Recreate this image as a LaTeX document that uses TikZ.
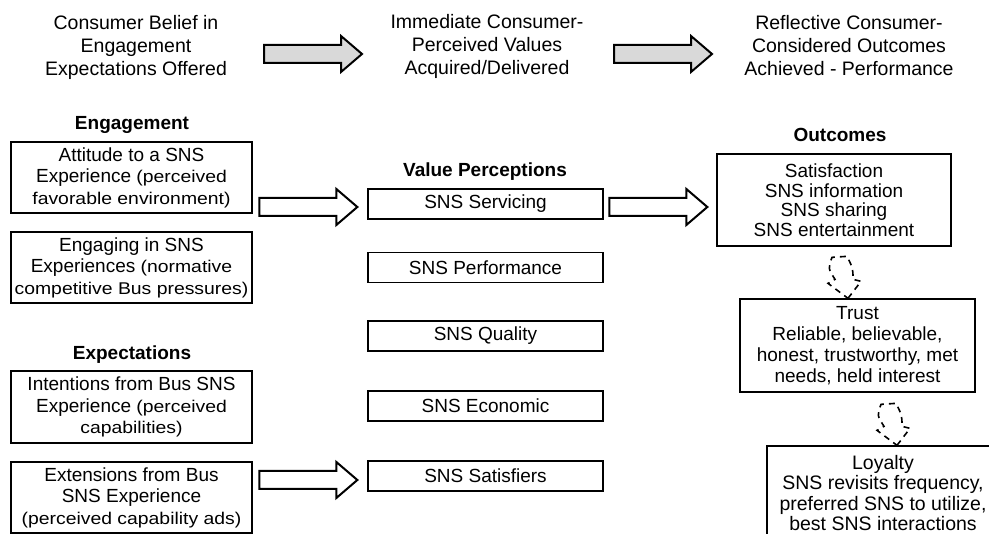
\documentclass[tikz,border=0pt]{standalone}
\usepackage{fontspec}
\setmainfont{Liberation Sans}
\newfontfamily\widefont[FakeStretch=1.14]{Liberation Sans}
\newcommand{\sm}[1]{{\widefont\fontsize{17}{21}\selectfont #1}}

\begin{document}
\begin{tikzpicture}[x=1pt, y=-1pt, line width=1.3pt,
    box/.style={draw, align=center, inner sep=0pt, font=\fontsize{19}{21.5}\selectfont},
    lbox/.style={box, minimum width=241, minimum height=71},
    vbox/.style={box, minimum width=235, minimum height=30},
    hdr/.style={align=center, font=\fontsize{19.5}{23}\selectfont},
    ttl/.style={font=\fontsize{19}{22}\selectfont\bfseries},
    blockarr/.pic={\draw[pic actions, line width=2pt, line join=miter]
        (0,0) -- (-21,-18) -- (-21,-9) -- (-98,-9) -- (-98,9) -- (-21,9) -- (-21,18) -- cycle;},
    dasharr/.pic={\draw[dash pattern=on 6pt off 5pt, line width=1.6pt]
        (0,0) -- (13,-17) -- (5,-19) .. controls (5,-30) .. (-1,-42) -- (-16,-41)
        .. controls (-20,-30) .. (-13,-19) -- (-20,-15) -- cycle;}]
    \useasboundingbox (0,0) rectangle (989,534);

    % Kopfzeile
    \node[hdr] (hbelief) at (136,47) {Consumer Belief in\\Engagement\\Expectations Offered};
    \node[hdr] (hvalue) at (487,46) {Immediate Consumer-\\Perceived Values\\Acquired/Delivered};
    \node[hdr] (houtcome) at (849,46) {Reflective Consumer-\\Considered Outcomes\\Achieved - Performance};
    \pic[fill=gray!30] at (362,54) {blockarr};
    \pic[fill=gray!30] at (712,54) {blockarr};

    % Engagement / Expectations
    \node[ttl] (teng) at (132,125) {Engagement};
    \node[lbox] (att) at (131.5,177.5) {Attitude to a SNS\\Experience \sm{(perceived}\\\sm{favorable environment)}};
    \node[lbox] (eng) at (131.5,267.5) {Engaging in SNS\\Experiences \sm{(normative}\\\sm{competitive Bus pressures)}};
    \node[ttl] (texp) at (132,355) {Expectations};
    \node[lbox, minimum height=72] (intn) at (131.5,407) {Intentions from Bus SNS\\Experience \sm{(perceived}\\\sm{capabilities)}};
    \node[lbox] (ext) at (131.5,497.5) {Extensions from Bus\\SNS Experience\\\sm{(perceived capability ads)}};

    % Value Perceptions
    \node[ttl] (tval) at (485,172) {Value Perceptions};
    \node[vbox] (serv) at (485.5,204) {SNS Servicing};
    \node[vbox] (perf) at (485.5,267.5) {SNS Performance};
    \node[vbox] (qual) at (485.5,336) {SNS Quality};
    \node[vbox] (econ) at (485.5,406) {SNS Economic};
    \node[vbox] (sat) at (485.5,476) {SNS Satisfiers};

    % Outcomes
    \node[ttl] (tout) at (840,135) {Outcomes};
    \node[box, minimum width=234, minimum height=92, font=\fontsize{19}{19.5}\selectfont] (out) at (834,200)
        {Satisfaction\\SNS information\\SNS sharing\\SNS entertainment};
    \node[box, minimum width=235, minimum height=93, font=\fontsize{19}{21}\selectfont] (trust) at (857.5,345.5)
        {Trust\\Reliable, believable,\\honest, trustworthy, met\\needs, held interest};
    \node[box, minimum width=232, minimum height=94, font=\fontsize{19.5}{20.5}\selectfont] (loy) at (883,493)
        {Loyalty\\SNS revisits frequency,\\preferred SNS to utilize,\\best SNS interactions};

    % Pfeile
    \coordinate (sout) at (out.west |- serv.east);
    \pic[fill=white] at ([xshift=-10pt,yshift=-3pt]serv.west) {blockarr};
    \pic[fill=white] at ([xshift=-9pt,yshift=-3pt]sout) {blockarr};
    \pic[fill=white] at ([xshift=-10pt,yshift=-4pt]sat.west) {blockarr};
    \pic at ([xshift=-9.5pt]trust.north) {dasharr};
    \pic at ([xshift=14pt]loy.north) {dasharr};
\end{tikzpicture}
\end{document}
